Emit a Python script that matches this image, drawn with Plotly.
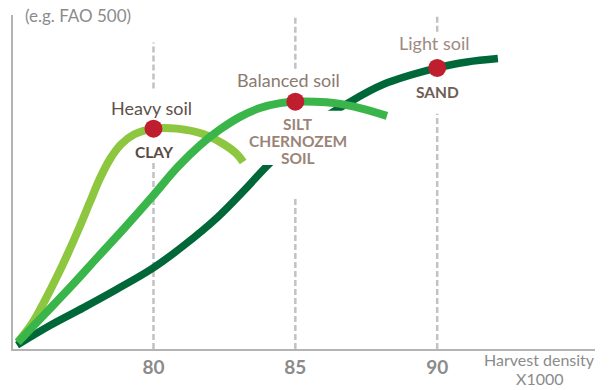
import plotly.graph_objects as go

# Harvest density (x1000) vs. relative maturity for three soil types
heavy_x = [75.22, 75.72, 76.18, 76.60, 76.99, 77.37, 77.76, 78.11, 78.47, 78.86, 79.31, 80.00,
           80.83, 81.75, 82.45, 82.94, 83.16]
heavy_y = [2.05, 7.62, 14.66, 21.70, 28.74, 36.07, 43.99, 51.03, 56.89, 61.29, 64.22, 65.98,
           65.98, 64.37, 61.44, 58.36, 56.01]

balanced_x = [75.22, 76.18, 77.13, 78.04, 78.96, 79.91, 80.86, 81.64, 82.34, 83.05, 83.75, 84.46,
              85.00, 85.69, 86.40, 87.28, 88.23]
balanced_y = [2.05, 10.56, 19.06, 27.57, 36.07, 45.16, 54.55, 61.00, 65.69, 69.50, 72.14, 73.61,
              74.05, 74.05, 73.61, 72.14, 69.80]

light_x = [75.19, 76.35, 77.52, 78.71, 79.95, 81.04, 82.24, 83.23, 83.97, 84.99, 85.80, 86.68,
           88.09, 90.00, 91.05, 92.14]
light_y = [1.17, 7.04, 12.32, 17.89, 24.05, 30.79, 39.30, 47.80, 54.55, 62.76, 68.04, 72.73,
           79.18, 84.16, 85.92, 86.95]

# Optimum point per soil
opt_x = [80, 85, 90]
opt_y = [65.98, 74.05, 84.16]
soil_names = ["Heavy soil", "Balanced soil", "Light soil"]
soil_types = [["CLAY"], ["SILT", "CHERNOZEM", "SOIL"], ["SAND"]]

tick_vals = [80, 85, 90]
tick_text = ["80", "85", "90"]

C_LIGHT = "#8dc63f"
C_MID = "#39b54a"
C_DARK = "#006838"
C_DOT = "#be1e2d"
GRID = "#c2c2c6"
AXIS_TXT = "#8b8b8b"
FONT = "Lato"

fig = go.Figure()

line_common = dict(mode="lines", line_shape="spline", hoverinfo="skip", showlegend=False)

fig.add_trace(go.Scatter(x=light_x, y=light_y, line=dict(color=C_DARK, width=7.5, smoothing=1.0), **line_common))
fig.add_trace(go.Scatter(x=heavy_x, y=heavy_y, line=dict(color=C_LIGHT, width=8, smoothing=1.0), **line_common))

# white backing behind the silt/chernozem label (hides the sand curve there)
bx0, bx1 = opt_x[1] - 1.60, opt_x[1] + 1.93
by0, by1 = 55.1, 71.3
fig.add_trace(go.Scatter(x=[bx0, bx1, bx1, bx0, bx0], y=[by0, by0, by1, by1, by0],
                         mode="lines", fill="toself", fillcolor="white",
                         line=dict(width=0, color="white"), hoverinfo="skip", showlegend=False))

fig.add_trace(go.Scatter(x=balanced_x, y=balanced_y, line=dict(color=C_MID, width=8, smoothing=1.0), **line_common))

fig.add_trace(go.Scatter(x=opt_x, y=opt_y, mode="markers",
                         marker=dict(color=C_DOT, size=18, line=dict(width=0)),
                         hoverinfo="skip", showlegend=False))

# dashed guides at each tick, interrupted around the labels
guide_segments = [
    (80, 78.0, 91.8), (80, 0, 56.0),
    (85, 83.9, 100), (85, 0, 45.7),
    (90, 95.0, 100), (90, 0, 70.4),
]
for gx, g0, g1 in guide_segments:
    fig.add_shape(type="line", xref="x", yref="y", x0=gx, x1=gx, y0=g0, y1=g1,
                  line=dict(color=GRID, width=2.5, dash="6px,3px"), layer="below")

# soil labels above and type labels below each point
name_cfg = [
    dict(color="#5d514a", xshift=-2, yshift=21),
    dict(color="#8a7a70", xshift=-7, yshift=22),
    dict(color="#9e8a7f", xshift=-3, yshift=25),
]
type_cfg = [
    dict(color="#5b4a42", xshift=1, yshift=-23),
    dict(color="#9a8478", xshift=3, yshift=-22),
    dict(color="#6e5e55", xshift=0, yshift=-24),
]
TYPE_LINE_GAP = 17
for i in range(3):
    fig.add_annotation(x=opt_x[i], y=opt_y[i], text=soil_names[i], showarrow=False,
                       xshift=name_cfg[i]["xshift"], yshift=name_cfg[i]["yshift"],
                       font=dict(family=FONT, size=18, color=name_cfg[i]["color"]))
    for k, part in enumerate(soil_types[i]):
        fig.add_annotation(x=opt_x[i], y=opt_y[i], text=part, showarrow=False,
                           xshift=type_cfg[i]["xshift"],
                           yshift=type_cfg[i]["yshift"] - k * TYPE_LINE_GAP,
                           font=dict(family=FONT, size=15.5, color=type_cfg[i]["color"], weight="bold"))

fig.add_annotation(xref="paper", yref="paper", x=0.017, y=1.0, xanchor="left", yanchor="middle",
                   text="(e.g. FAO 500)", showarrow=False,
                   font=dict(family=FONT, size=17, color=AXIS_TXT))
# axis title, two lines, running off the bottom edge
fig.add_annotation(xref="paper", yref="paper", x=0.905, y=0, yshift=-10, xanchor="center", yanchor="middle",
                   text="Harvest density", showarrow=False, borderpad=0,
                   font=dict(family=FONT, size=16, color=AXIS_TXT))
fig.add_annotation(xref="paper", yref="paper", x=0.905, y=0, yshift=-29, xanchor="center", yanchor="middle",
                   text="X1000", showarrow=False, borderpad=0,
                   font=dict(family=FONT, size=16, color=AXIS_TXT))

fig.update_xaxes(range=[75.048, 95.563], showgrid=False, zeroline=False,
                 showline=True, linecolor="#b4b4b4", linewidth=2,
                 tickvals=tick_vals, ticktext=tick_text, ticks="",
                 tickfont=dict(family=FONT, size=19, color=AXIS_TXT, weight="bold"))
fig.update_yaxes(range=[0, 100], showgrid=False, zeroline=False,
                 showline=True, linecolor="#b4b4b4", linewidth=2,
                 showticklabels=False, ticks="")

fig.update_layout(width=610, height=390, margin=dict(l=13, r=15, t=15, b=34),
                  plot_bgcolor="white", paper_bgcolor="white")

fig.write_html("out.html")
